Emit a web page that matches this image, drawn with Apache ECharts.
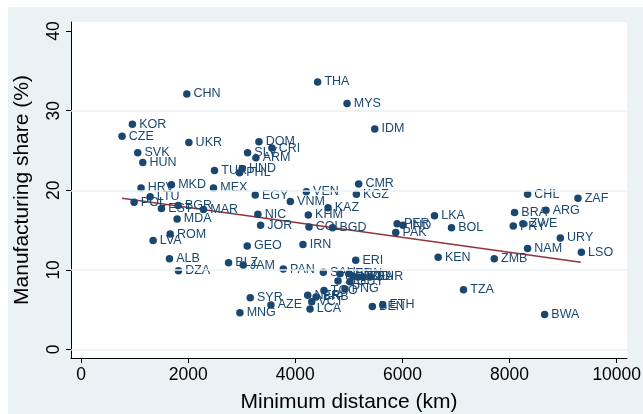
<!DOCTYPE html>
<html>
<head>
<meta charset="utf-8">
<script src="https://cdn.jsdelivr.net/npm/echarts@6/dist/echarts.min.js"></script>
<style>
html,body{margin:0;padding:0;background:#fff;width:643px;height:414px;overflow:hidden;}
#c{position:absolute;left:8px;top:7px;width:635px;height:407px;}
</style>
</head>
<body>
<div id="c"></div>
<script>
const countries = ["KOR","CZE","SVK","HUN","UKR","CHN","DOM","SLV","CRI","ARM","TUR","HND","PHL","HRV","MKD","MEX","LTU","POL","BGR","EST","MAR","EGY","VNM","NIC","MDA","JOR","ROM","LVA","GEO","ALB","DZA","BLZ","JAM","PAN","SYR","AZE","MNG","THA","MYS","IDM","CMR","VEN","KGZ","KAZ","KHM","LKA","COL","BGD","PER","IND","PAK","BOL","IRN","ERI","KEN","SAU","SEN","SDN","MLI","TCD","BFA","BUR","SLE","GUY","TGO","PNG","NER","BRB","VCT","LCA","BEN","ETH","TZA","CHL","ZAF","BRA","ARG","PRY","ZWE","URY","NAM","LSO","ZMB","BWA"];
const distance = [959,766,1059,1153,2013,1975,3321,3109,3564,3265,2492,3009,2959,1121,1688,2473,1290,991,1813,1501,2286,3252,3907,3302,1794,3352,1664,1346,3103,1651,1819,2754,3028,3776,3159,3545,2966,4417,4966,5483,5183,4206,5140,4611,4243,6598,4256,4697,5901,6012,5875,6916,4143,5128,6667,4523,4835,5003,5078,5171,5264,5395,4797,5021,4536,4928,4232,4387,4307,4275,5438,5632,7140,8336,9277,8093,8679,8069,8249,8947,8336,9340,7714,8654];
const manufShare = [28.3,26.8,24.7,23.5,26.0,32.1,26.1,24.7,25.3,24.1,22.5,22.7,22.2,20.3,20.7,20.3,19.2,18.5,18.1,17.7,17.6,19.4,18.6,17.0,16.4,15.6,14.5,13.7,13.0,11.4,9.9,10.9,10.6,10.1,6.5,5.6,4.6,33.6,30.9,27.7,20.8,19.8,19.5,17.8,16.9,16.8,15.4,15.3,15.8,15.6,14.7,15.3,13.2,11.2,11.6,9.7,9.5,9.5,9.2,9.1,9.1,9.1,8.6,8.5,7.4,7.6,6.8,6.6,6.0,5.1,5.4,5.6,7.5,19.5,19.0,17.2,17.5,15.5,15.8,14.0,12.7,12.2,11.4,4.4];
const fitX = [766, 9330];
const fitY = [19.0, 10.95];
const xTicks = [0, 2000, 4000, 6000, 8000, 10000];
const yTicks = [0, 10, 20, 30, 40];
const yGrid = [0, 10, 20, 30];

const font = "Liberation Sans, Arial, Helvetica, sans-serif";
const chart = echarts.init(document.getElementById('c'), null, {renderer: 'canvas'});
const pts = countries.map((c, i) => ({name: c, value: [distance[i], manufShare[i]]}));
chart.setOption({
  backgroundColor: '#eaf2f3',
  animation: false,
  grid: {left: 63, top: 15, right: 16, bottom: 56, show: true, backgroundColor: '#ffffff', borderWidth: 0,
    containLabel: false, outerBoundsMode: 'none'},
  xAxis: {
    type: 'value', min: -187, max: 10192,
    name: 'Minimum distance (km)', nameLocation: 'middle', nameGap: 34,
    nameTextStyle: {fontFamily: font, fontSize: 21, color: '#000'},
    axisLine: {show: true, onZero: false, lineStyle: {color: '#000', width: 1}},
    axisTick: {show: true, length: 5, customValues: xTicks, lineStyle: {color: '#000'}},
    axisLabel: {customValues: xTicks, formatter: v => String(v), fontFamily: font, fontSize: 17.5, color: '#000', margin: 8},
    splitLine: {show: false}
  },
  yAxis: {
    type: 'value', min: -1.07, max: 41.14,
    name: 'Manufacturing share (%)', nameLocation: 'middle', nameGap: 38, nameRotate: 90,
    nameTextStyle: {fontFamily: font, fontSize: 21, color: '#000'},
    axisLine: {show: true, onZero: false, lineStyle: {color: '#000', width: 1}},
    axisTick: {show: true, length: 5, customValues: yTicks, lineStyle: {color: '#000'}},
    axisLabel: {customValues: yTicks, formatter: v => String(v), rotate: 90, fontFamily: font, fontSize: 17.5, color: '#000', margin: 8},
    splitLine: {show: false}
  },
  series: [
    {
      type: 'line', data: [], silent: true, z: 1,
      markLine: {silent: true, symbol: ['none','none'], label: {show: false},
        lineStyle: {color: '#eaf2f3', width: 1.5, type: 'solid'},
        data: yGrid.map(v => ({yAxis: v}))}
    },
    {
      type: 'scatter', data: pts, symbolSize: 7.5, z: 3,
      itemStyle: {color: '#1a476f', opacity: 1},
      label: {show: true, position: 'right', distance: 3, formatter: p => p.name,
        fontFamily: font, fontSize: 12.5, color: '#1a476f'}
    },
    {
      type: 'line', data: fitX.map((x, i) => [x, fitY[i]]), symbol: 'none', z: 2,
      lineStyle: {color: '#90353b', width: 1.5}
    }
  ]
});
</script>
</body>
</html>
